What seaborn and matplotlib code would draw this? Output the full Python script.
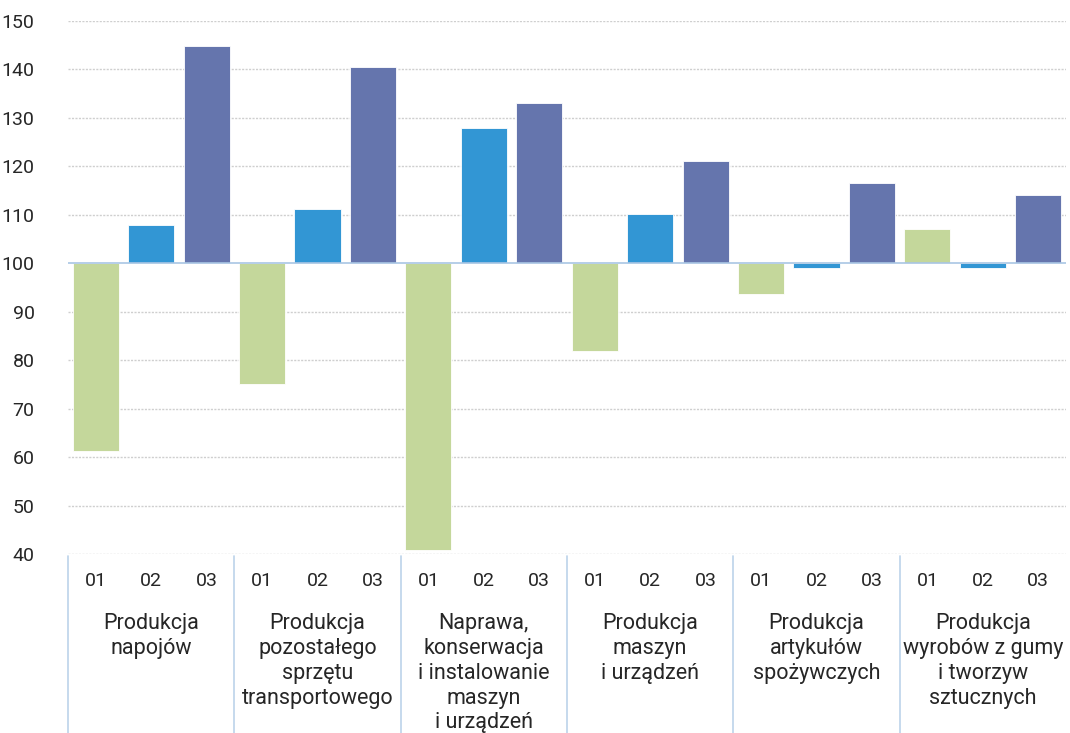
import matplotlib
matplotlib.use("Agg")
import matplotlib.pyplot as plt
import matplotlib.transforms as mtransforms
import seaborn as sns
import pandas as pd

categories = [
    "Produkcja\nnapojów",
    "Produkcja\npozostałego\nsprzętu\ntransportowego",
    "Naprawa,\nkonserwacja\ni instalowanie\nmaszyn\ni urządzeń",
    "Produkcja\nmaszyn\ni urządzeń",
    "Produkcja\nartykułów\nspożywczych",
    "Produkcja\nwyrobów z gumy\ni tworzyw\nsztucznych",
]
series = ["01", "02", "03"]
values_01 = [61.2, 75.0, 40.8, 81.8, 93.6, 107.0]
values_02 = [108.0, 111.1, 127.9, 110.1, 99.0, 99.0]
values_03 = [144.8, 140.5, 133.0, 121.1, 116.5, 114.0]
yticks = [40, 50, 60, 70, 80, 90, 100, 110, 120, 130, 140, 150]
baseline = 100
colors = ["#c4d79b", "#3296d4", "#6575ad"]

rows = []
for s, vals in zip(series, [values_01, values_02, values_03]):
    for c, v in zip(categories, vals):
        rows.append({"cat": c, "series": s, "delta": v - baseline})
df = pd.DataFrame(rows)

sns.set_style("white")
plt.rcParams["font.family"] = ["Roboto", "DejaVu Sans"]

fig = plt.figure(figsize=(10.70, 7.33), dpi=100)
ax = fig.add_axes([68 / 1070, 1 - 554 / 733, (1066 - 68) / 1070, (554 - 21) / 733])

sns.barplot(data=df, x="cat", y="delta", hue="series", order=categories,
            hue_order=series, palette=colors, width=1.0, gap=0.17,
            bottom=baseline, ax=ax, legend=False, edgecolor="white",
            linewidth=0.6, saturation=1)

ax.set_xlim(-0.5, len(categories) - 0.5)
ax.set_ylim(40, 150)
ax.set_yticks(yticks)
ax.set_yticklabels([str(t) for t in yticks], fontsize=14, color="#262626")
ax.tick_params(axis="y", length=0, pad=24)
ax.set_xticks([])
ax.set_xlabel("")
ax.set_ylabel("")
for sp in ax.spines.values():
    sp.set_visible(False)

for t in yticks:
    if t == baseline:
        continue
    ax.axhline(t, color="#cfcfcf", lw=1.0, ls=(0, (1.5, 1)), zorder=0)
ax.axhline(baseline, color="#a9c6e4", lw=1.2, zorder=3)

trans = mtransforms.blended_transform_factory(ax.transData, fig.transFigure)
sep_color = "#bcd3ea"
for b in range(len(categories)):
    x = b - 0.5
    ax.plot([x, x], [1 - 556 / 733, 0], transform=trans, color=sep_color,
            lw=1.2, clip_on=False)

for i, c in enumerate(categories):
    for j, s in enumerate(series):
        ax.text(i + (j - 1) / 3, 1 - 581 / 733, s, transform=trans,
                ha="center", va="center", fontsize=14, color="#262626")
    ax.text(i, 1 - 613 / 733, c, transform=trans, ha="center", va="top",
            fontsize=15.5, color="#262626", linespacing=1.24)

fig.savefig("out.png", dpi=100)
